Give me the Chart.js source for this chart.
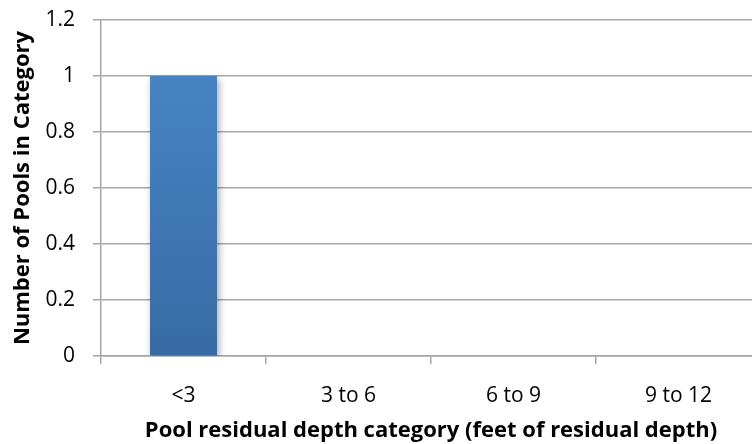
<!DOCTYPE html>
<html>
<head>
<meta charset="utf-8">
<script src="https://cdn.jsdelivr.net/npm/chart.js@4"></script>
<style>
  html, body { margin: 0; padding: 0; background: #fff; overflow: hidden; }
  #wrap { position: relative; width: 771px; height: 444px; }
</style>
</head>
<body>
<div id="wrap"><canvas id="chart"></canvas></div>
<script>
// Pool residual depth histogram

const categories = ['<3', '3 to 6', '6 to 9', '9 to 12'];
const poolCounts = [1, 0, 0, 0];
const yTicks = [0, 0.2, 0.4, 0.6, 0.8, 1, 1.2];

const gridColor = '#a6a6a6';
const textColor = '#000';
const tickFont = { family: 'Open Sans', size: 21 };
const titleFont = { family: 'Open Sans', size: 22, weight: 'bold' };

// soft drop shadow behind the bars
const barShadow = {
  id: 'barShadow',
  beforeDatasetsDraw(chart) {
    const c = chart.ctx;
    c.save();
    c.shadowColor = 'rgba(0,0,0,0.35)';
    c.shadowBlur = 7;
    c.shadowOffsetX = 2;
    c.shadowOffsetY = 3;
  },
  afterDatasetsDraw(chart) { chart.ctx.restore(); }
};

function barFill(ctx) {
  const area = ctx.chart.chartArea;
  if (!area) return '#4a86c6';
  const g = ctx.chart.ctx.createLinearGradient(0, area.top, 0, area.bottom);
  g.addColorStop(0, '#4a88ca');
  g.addColorStop(1, '#386ba5');
  return g;
}

new Chart(document.getElementById('chart'), {
  type: 'bar',
  data: {
    labels: categories,
    datasets: [{
      data: poolCounts,
      backgroundColor: barFill,
      borderWidth: 0,
      categoryPercentage: 0.406,
      barPercentage: 1,
    }]
  },
  plugins: [barShadow],
  options: {
    responsive: true,
    maintainAspectRatio: false,
    animation: false,
    layout: { padding: { top: 20, right: 10, left: 0, bottom: 0 } },
    plugins: { legend: { display: false }, tooltip: { enabled: false } },
    scales: {
      x: {
        afterFit(scale) { scale.height = 88; scale.paddingLeft = 0; scale.paddingRight = 0; },
        grid: { display: true, drawOnChartArea: false, drawTicks: true, tickLength: 8, color: gridColor, lineWidth: 1.5, offset: true },
        border: { color: gridColor, width: 1.5 },
        ticks: { color: textColor, font: tickFont, padding: 19, maxRotation: 0 },
        title: {
          display: true,
          text: 'Pool residual depth category (feet of residual depth)',
          color: textColor,
          font: titleFont,
          padding: { top: 0, bottom: 0 }
        }
      },
      y: {
        min: 0,
        max: 1.2,
        afterFit(scale) { scale.width = 101; scale.paddingTop = 0; scale.paddingBottom = 0; },
        afterBuildTicks(axis) { axis.ticks = yTicks.map(v => ({ value: v })); },
        grid: { color: gridColor, lineWidth: 1.5, drawTicks: true, tickLength: 8 },
        border: { color: gridColor, width: 1.5 },
        ticks: { color: textColor, font: tickFont, padding: 18, callback: v => String(v) },
        title: {
          display: true,
          text: 'Number of Pools in Category',
          color: textColor,
          font: titleFont,
          padding: { top: 10, bottom: 0 }
        }
      }
    }
  }
});
</script>
</body>
</html>
